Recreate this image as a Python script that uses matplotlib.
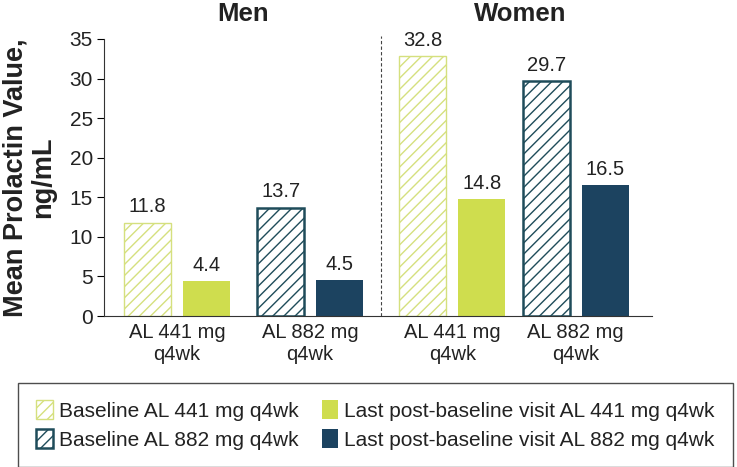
import matplotlib.pyplot as plt
import numpy as np
from matplotlib.patches import Patch

plt.rcParams['font.family'] = ['Liberation Sans', 'DejaVu Sans']
plt.rcParams['hatch.linewidth'] = 1.0

# data
groups = ['AL 441 mg\nq4wk', 'AL 882 mg\nq4wk', 'AL 441 mg\nq4wk', 'AL 882 mg\nq4wk']
baseline = [11.8, 13.7, 32.8, 29.7]
last_visit = [4.4, 4.5, 14.8, 16.5]
panel_titles = ['Men', 'Women']
legend_labels = ['Baseline AL 441 mg q4wk', 'Baseline AL 882 mg q4wk',
                 'Last post-baseline visit AL 441 mg q4wk', 'Last post-baseline visit AL 882 mg q4wk']

green = '#cfdd4e'
green_line = '#d5e07e'
navy = '#1c4360'
navy_line = '#1f4c5a'
dose_colors = [green, navy, green, navy]
hatch_colors = [green_line, navy_line, green_line, navy_line]
txt = '#222222'

centers = np.array([0, 2.27, 4.69, 6.79])
w = 0.8
off = 0.5

fig = plt.figure(figsize=(7.37, 4.67), dpi=100)
ax = fig.add_axes([104 / 737, 1 - 316 / 467, (652 - 104) / 737, (316 - 39) / 467])

for i in range(4):
    ax.bar(centers[i] - off, baseline[i], width=w, facecolor='white',
           edgecolor=hatch_colors[i], linewidth=1.8 if i % 2 else 1.0, hatch='///')
    ax.bar(centers[i] + off, last_visit[i], width=w, color=dose_colors[i], linewidth=0)
    ax.text(centers[i] - off, baseline[i] + 1.3, f'{baseline[i]:.1f}', ha='center',
            va='baseline', fontsize=14.5, color=txt)
    ax.text(centers[i] + off, last_visit[i] + 1.3, f'{last_visit[i]:.1f}', ha='center',
            va='baseline', fontsize=14.5, color=txt)

ax.set_xlim(-1.24, 8.09)
ax.set_ylim(0, 35)
ax.set_yticks(range(0, 36, 5))
ax.set_xticks(centers)
ax.set_xticklabels(groups, fontsize=14.5, color=txt, linespacing=1.2)
ax.tick_params(axis='x', length=0, pad=5)
ax.tick_params(axis='y', labelsize=15, labelcolor=txt, length=5, pad=3)
for s in ['top', 'right']:
    ax.spines[s].set_visible(False)
ax.spines['left'].set_color('#333333')
ax.spines['bottom'].set_color('#333333')

divider = (centers[1] + centers[2]) / 2
ax.axvline(divider, ymax=1.01, color='#444444', linestyle=(0, (3, 2)), linewidth=0.8, clip_on=False)

ax.set_ylabel('Mean Prolactin Value,\nng/mL', fontsize=19.5, fontweight='bold',
              labelpad=10, linespacing=1.05, color=txt)

ax.text(0.254, 1.065, panel_titles[0], transform=ax.transAxes,
        ha='center', va='baseline', fontsize=18.5, fontweight='bold', color=txt)
ax.text(0.759, 1.065, panel_titles[1], transform=ax.transAxes,
        ha='center', va='baseline', fontsize=18.5, fontweight='bold', color=txt)

# legend
handles = [
    Patch(facecolor='white', edgecolor=green_line, hatch='///', label=legend_labels[0]),
    Patch(facecolor='white', edgecolor=navy_line, hatch='///', linewidth=1.8, label=legend_labels[1]),
    Patch(facecolor=green, label=legend_labels[2]),
    Patch(facecolor=navy, label=legend_labels[3]),
]
leg = fig.legend(handles=handles, ncol=2, loc='center',
                 bbox_to_anchor=(375.5 / 737, 1 - 425 / 467),
                 fontsize=15, frameon=True, fancybox=False, edgecolor=txt,
                 handlelength=0.8, handleheight=1.0, handletextpad=0.3, columnspacing=1.1,
                 labelspacing=0.4, borderpad=0.85, borderaxespad=0, labelcolor=txt)
leg.get_frame().set_linewidth(1.0)

fig.savefig('out.png', dpi=100)
